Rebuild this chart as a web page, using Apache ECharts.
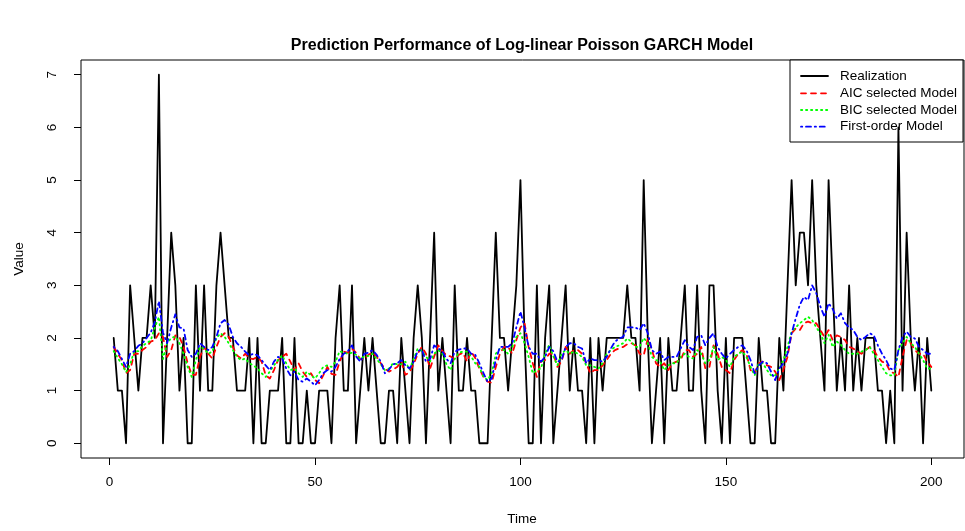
<!DOCTYPE html>
<html>
<head>
<meta charset="utf-8">
<title>Prediction Performance of Log-linear Poisson GARCH Model</title>
<script src="https://cdn.jsdelivr.net/npm/echarts@6/dist/echarts.min.js"></script>
<style>
  html, body { margin: 0; padding: 0; background: #fff; }
  #chart { width: 965px; height: 531px; }
</style>
</head>
<body>
<div id="chart"></div>
<script>
// observed counts, t = 1..200
const realization = [
  2, 1, 1, 0, 3, 2, 1, 2, 2, 3,
  2, 7, 0, 2, 4, 3, 1, 2, 0, 0,
  3, 1, 3, 1, 1, 3, 4, 3, 2, 2,
  1, 1, 1, 2, 0, 2, 0, 0, 1, 1,
  1, 2, 0, 0, 2, 0, 0, 1, 0, 0,
  1, 1, 1, 0, 2, 3, 1, 1, 3, 0,
  1, 2, 1, 2, 1, 0, 0, 1, 1, 0,
  2, 1, 0, 2, 3, 2, 0, 2, 4, 1,
  2, 1, 0, 3, 1, 1, 2, 1, 1, 0,
  0, 0, 2, 4, 2, 2, 1, 2, 3, 5,
  2, 0, 0, 3, 0, 2, 3, 0, 1, 2,
  3, 1, 2, 1, 1, 0, 2, 0, 2, 1,
  2, 2, 2, 2, 2, 3, 2, 2, 1, 5,
  2, 0, 1, 2, 0, 2, 1, 1, 2, 3,
  1, 1, 3, 1, 0, 3, 3, 1, 0, 2,
  0, 2, 2, 2, 1, 0, 0, 2, 1, 1,
  0, 0, 2, 1, 3, 5, 3, 4, 4, 3,
  5, 3, 2, 1, 5, 3, 1, 2, 1, 3,
  1, 2, 1, 2, 2, 2, 1, 1, 0, 1,
  0, 6, 1, 4, 2, 1, 2, 0, 2, 1
]

// one-step predictions
const aicModel = [
  1.83, 1.7, 1.58, 1.33, 1.39, 1.7, 1.7, 1.77, 1.83, 1.93,
  1.96, 2.09, 2.02, 1.64, 1.77, 2.05, 2.02, 1.83, 1.52, 1.3,
  1.3, 1.64, 1.83, 1.7, 1.61, 1.83, 2.02, 2.09, 2.02, 1.83,
  1.67, 1.61, 1.7, 1.61, 1.6, 1.64, 1.55, 1.29, 1.23, 1.39,
  1.58, 1.64, 1.7, 1.55, 1.39, 1.52, 1.36, 1.26, 1.33, 1.2,
  1.14, 1.29, 1.45, 1.32, 1.3, 1.55, 1.74, 1.72, 1.8, 1.72,
  1.6, 1.6, 1.68, 1.72, 1.65, 1.52, 1.42, 1.36, 1.4, 1.45,
  1.55, 1.3, 1.35, 1.5, 1.7, 1.83, 1.7, 1.42, 1.65, 1.86,
  1.75, 1.67, 1.65, 1.6, 1.68, 1.72, 1.55, 1.74, 1.62, 1.42,
  1.26, 1.17, 1.15, 1.45, 1.7, 1.83, 1.83, 1.7, 1.96, 2.2,
  2.28, 1.83, 1.52, 1.26, 1.55, 1.58, 1.7, 1.7, 1.45, 1.55,
  1.83, 1.7, 1.77, 1.77, 1.7, 1.52, 1.33, 1.39, 1.39, 1.48,
  1.58, 1.7, 1.77, 1.8, 1.83, 1.88, 1.9, 1.86, 1.7, 1.67,
  1.99, 1.77, 1.52, 1.45, 1.52, 1.39, 1.52, 1.55, 1.58, 1.77,
  1.77, 1.64, 1.7, 1.83, 1.42, 1.45, 1.86, 1.7, 1.45, 1.39,
  1.33, 1.58, 1.7, 1.77, 1.7, 1.39, 1.33, 1.52, 1.55, 1.48,
  1.45, 1.36, 1.2, 1.39, 1.64, 2.09, 2.18, 2.15, 2.28, 2.31,
  2.28, 2.28, 2.15, 2.02, 2.15, 1.96, 2.05, 2.02, 1.96, 1.83,
  1.8, 1.74, 1.7, 1.77, 1.83, 1.77, 1.64, 1.55, 1.52, 1.36,
  1.33, 1.26, 1.64, 1.96, 1.9, 1.77, 1.7, 1.7, 1.55, 1.45
]

const bicModel = [
  1.75, 1.62, 1.5, 1.35, 1.5, 1.75, 1.75, 1.85, 1.9, 1.95,
  2.2, 2.4, 1.6, 1.9, 2.0, 2.03, 1.9, 1.7, 1.45, 1.26,
  1.58, 1.83, 1.8, 1.7, 1.74, 2.0, 2.09, 2.02, 1.9, 1.77,
  1.64, 1.58, 1.61, 1.52, 1.48, 1.42, 1.33, 1.26, 1.36, 1.48,
  1.58, 1.67, 1.52, 1.39, 1.42, 1.33, 1.26, 1.36, 1.29, 1.23,
  1.33, 1.45, 1.48, 1.45, 1.55, 1.75, 1.72, 1.7, 1.72, 1.68,
  1.6, 1.65, 1.66, 1.7, 1.6, 1.5, 1.39, 1.42, 1.52, 1.5,
  1.5, 1.55, 1.4, 1.6, 1.8, 1.75, 1.65, 1.55, 1.7, 1.77,
  1.7, 1.5, 1.39, 1.6, 1.72, 1.74, 1.74, 1.65, 1.52, 1.45,
  1.26, 1.2, 1.33, 1.7, 1.8, 1.77, 1.7, 1.83, 2.02, 2.09,
  1.9, 1.64, 1.33, 1.39, 1.42, 1.7, 1.87, 1.65, 1.48, 1.7,
  1.77, 1.7, 1.74, 1.7, 1.64, 1.48, 1.48, 1.45, 1.42, 1.52,
  1.7, 1.77, 1.83, 1.86, 1.9, 1.99, 1.93, 1.83, 1.83, 2.0,
  1.9, 1.64, 1.58, 1.55, 1.39, 1.48, 1.52, 1.52, 1.64, 1.7,
  1.64, 1.61, 1.77, 1.7, 1.52, 1.58, 1.83, 1.58, 1.64, 1.58,
  1.45, 1.64, 1.7, 1.74, 1.64, 1.45, 1.29, 1.52, 1.52, 1.39,
  1.29, 1.29, 1.42, 1.58, 1.83, 2.12, 2.2, 2.28, 2.34, 2.4,
  2.34, 2.2, 2.09, 1.9, 2.06, 1.83, 1.93, 1.87, 1.77, 1.7,
  1.7, 1.7, 1.74, 1.77, 1.83, 1.7, 1.58, 1.45, 1.33, 1.29,
  1.29, 1.77, 1.9, 2.02, 1.9, 1.83, 1.7, 1.58, 1.42, 1.42
]

const firstOrderModel = [
  1.83, 1.75, 1.6, 1.45, 1.7, 1.75, 1.85, 1.9, 2.0, 2.1,
  2.3, 2.7, 2.1, 1.9, 2.2, 2.45, 2.2, 2.18, 1.77, 1.64,
  1.7, 1.9, 1.83, 1.77, 1.83, 2.02, 2.28, 2.34, 2.25, 2.02,
  1.9, 1.83, 1.74, 1.67, 1.7, 1.67, 1.58, 1.48, 1.39, 1.55,
  1.64, 1.61, 1.42, 1.29, 1.36, 1.2, 1.17, 1.23, 1.17, 1.1,
  1.2, 1.33, 1.39, 1.36, 1.45, 1.6, 1.7, 1.75, 1.86, 1.65,
  1.55, 1.7, 1.72, 1.77, 1.68, 1.55, 1.33, 1.4, 1.5, 1.52,
  1.58, 1.48, 1.42, 1.55, 1.75, 1.78, 1.55, 1.6, 1.86, 1.8,
  1.75, 1.6, 1.52, 1.74, 1.78, 1.8, 1.8, 1.7, 1.68, 1.52,
  1.33, 1.17, 1.23, 1.58, 1.83, 1.83, 1.83, 1.9, 2.2, 2.5,
  2.2, 1.83, 1.7, 1.7, 1.55, 1.64, 1.83, 1.75, 1.55, 1.58,
  1.83, 1.9, 1.9, 1.83, 1.8, 1.52, 1.61, 1.58, 1.58, 1.55,
  1.64, 1.8, 1.93, 1.99, 2.02, 2.2, 2.2, 2.2, 2.15, 2.28,
  2.09, 1.77, 1.7, 1.74, 1.58, 1.64, 1.64, 1.64, 1.8, 1.96,
  1.83, 1.77, 2.02, 2.05, 1.86, 2.0, 2.09, 1.83, 1.7, 1.61,
  1.7, 1.77, 1.83, 1.86, 1.77, 1.58, 1.33, 1.48, 1.55, 1.52,
  1.36, 1.2, 1.42, 1.52, 1.7, 2.09, 2.37, 2.63, 2.78, 2.72,
  3.0, 2.85, 2.6, 2.4, 2.66, 2.55, 2.37, 2.47, 2.28, 2.2,
  2.15, 2.02, 1.96, 2.02, 2.09, 2.05, 1.86, 1.7, 1.58, 1.42,
  1.39, 1.77, 2.02, 2.12, 2.02, 1.99, 1.83, 1.77, 1.7, 1.7
]

const xTicks = [0, 50, 100, 150, 200]
const yTicks = [0, 1, 2, 3, 4, 5, 6, 7]
const seriesNames = ['Realization', 'AIC selected Model', 'BIC selected Model', 'First-order Model']

const FONT = '"Liberation Sans", Arial, Helvetica, sans-serif'
const COLORS = ['#000000', '#ff0000', '#00ff00', '#0000ff']
// R lty 1, 2, 3, 4
const DASHES = ['solid', [5, 5], [1.25, 3.75], [1.25, 3.75, 5, 3.75]]

const toPairs = arr => arr.map((v, i) => [i + 1, v])

const chart = echarts.init(document.getElementById('chart'))

// legend drawn R style, in the top right corner of the box
const legendLeft = 790
const legendTop = 60
const legendRows = [76, 93.3, 110, 126.7]
const legendItems = [
  {
    type: 'rect',
    shape: { x: legendLeft, y: legendTop, width: 173, height: 82 },
    style: { fill: '#fff', stroke: '#000', lineWidth: 1 },
    z: 1
  }
]
seriesNames.forEach((name, i) => {
  legendItems.push({
    type: 'line',
    shape: { x1: 801, y1: legendRows[i], x2: 828, y2: legendRows[i] },
    style: {
      stroke: COLORS[i],
      lineWidth: 1.8,
      lineCap: 'round',
      lineDash: DASHES[i] === 'solid' ? null : DASHES[i]
    },
    z: 1
  })
  legendItems.push({
    type: 'text',
    style: {
      text: name, x: 840, y: legendRows[i],
      font: '13.5px ' + FONT, fill: '#000',
      align: 'left', verticalAlign: 'middle'
    },
    z: 1
  })
})

const labels = [
  {
    type: 'text',
    style: {
      text: 'Prediction Performance of Log-linear Poisson GARCH Model',
      x: 522, y: 46, font: 'bold 16px ' + FONT, fill: '#000',
      align: 'center', verticalAlign: 'middle'
    }
  },
  {
    type: 'text',
    style: {
      text: 'Time', x: 522, y: 519, font: '13.5px ' + FONT, fill: '#000',
      align: 'center', verticalAlign: 'middle'
    }
  },
  {
    type: 'text',
    x: 19, y: 259, rotation: Math.PI / 2,
    style: {
      text: 'Value', x: 0, y: 0, font: '13.5px ' + FONT, fill: '#000',
      align: 'center', verticalAlign: 'middle'
    }
  }
]

const option = {
  animation: false,
  backgroundColor: '#fff',
  textStyle: { fontFamily: FONT },
  grid: {
    left: 81,
    right: 1,
    top: 60,
    bottom: 73,
    show: true,
    borderColor: '#000',
    borderWidth: 1,
    backgroundColor: 'transparent',
    outerBoundsMode: 'none'
  },
  xAxis: {
    type: 'value',
    min: -6.96,
    max: 207.96,
    splitLine: { show: false },
    axisLine: { show: false, onZero: false },
    axisTick: { show: true, inside: false, length: 7, customValues: xTicks, lineStyle: { color: '#000' } },
    axisLabel: { customValues: xTicks, margin: 17, fontSize: 13.5, color: '#000', fontFamily: FONT }
  },
  yAxis: {
    type: 'value',
    min: -0.28,
    max: 7.28,
    splitLine: { show: false },
    axisLine: { show: false, onZero: false },
    axisTick: { show: true, inside: false, length: 7, customValues: yTicks, lineStyle: { color: '#000' } },
    axisLabel: { customValues: yTicks, rotate: 90, margin: 22, fontSize: 13.5, color: '#000', fontFamily: FONT }
  },
  graphic: { elements: legendItems.concat(labels) },
  series: [realization, aicModel, bicModel, firstOrderModel].map((arr, i) => ({
    name: seriesNames[i],
    type: 'line',
    data: toPairs(arr),
    symbol: 'none',
    z: 3,
    lineStyle: {
      color: COLORS[i],
      width: 1.8,
      type: DASHES[i],
      cap: 'round',
      join: 'round'
    }
  }))
}

chart.setOption(option)
</script>
</body>
</html>
